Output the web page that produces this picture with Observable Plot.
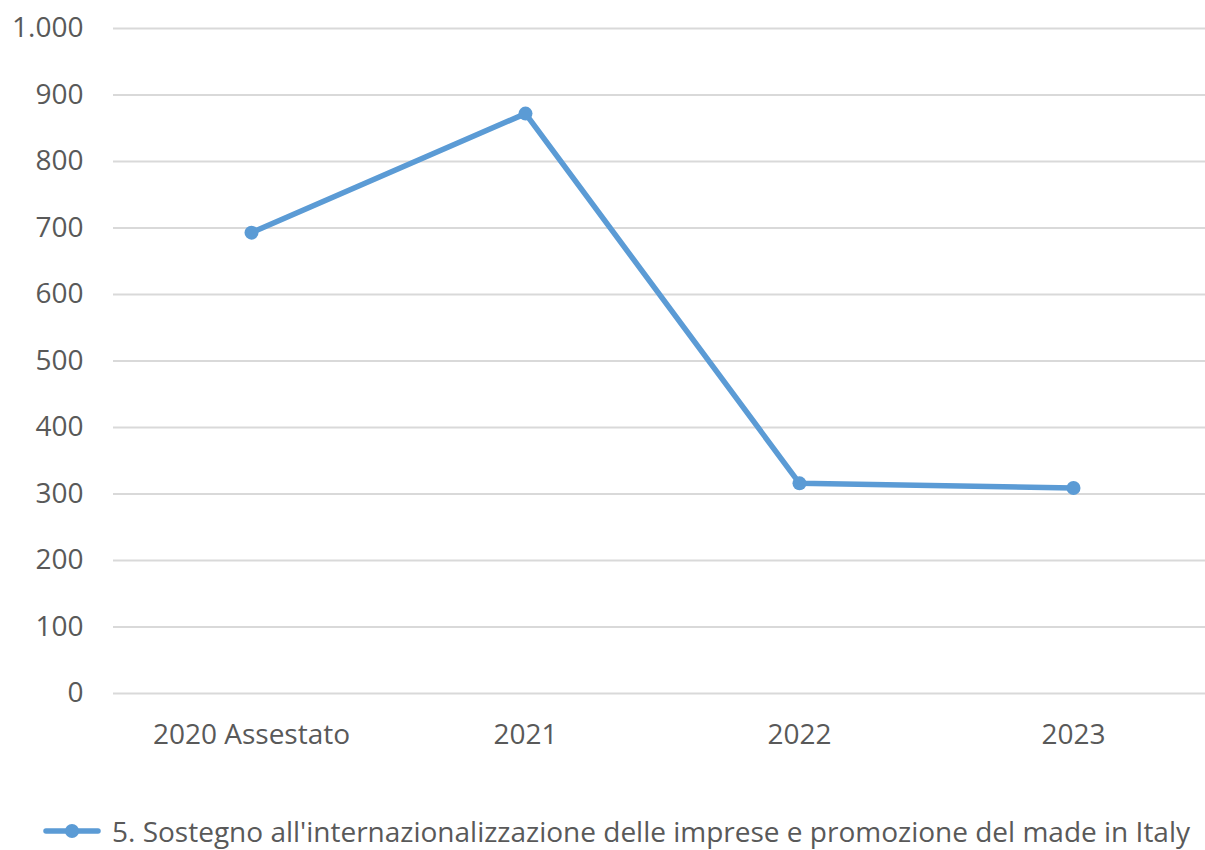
<!DOCTYPE html>
<html>
<head>
<meta charset="utf-8">
<script src="https://cdn.jsdelivr.net/npm/d3@7"></script>
<script src="https://cdn.jsdelivr.net/npm/@observablehq/plot@0.6"></script>
<style>
  html, body { margin: 0; padding: 0; background: #fff; }
  body { width: 1205px; height: 850px; overflow: hidden; font-family: "Open Sans", sans-serif; }
  #legend { position: absolute; left: 43px; top: 812px; display: flex; align-items: center; color: #595959; font-size: 28px; white-space: nowrap; }
  #legend svg { margin-right: 11px; }
</style>
</head>
<body>
<div id="chart"></div>
<div id="legend"></div>
<script>
const categories = ["2020 Assestato", "2021", "2022", "2023"];
const values = [693, 872, 316, 309];
const seriesName = "5. Sostegno all'internazionalizzazione delle imprese e promozione del made in Italy";
const yTicks = [0, 100, 200, 300, 400, 500, 600, 700, 800, 900, 1000];
const color = "#5b9bd5";

const data = categories.map((c, i) => ({category: c, value: values[i]}));
const it = d3.formatLocale({decimal: ",", thousands: ".", grouping: [3], currency: ["", "€"]});
const fmt = it.format(",");

const chart = Plot.plot({
  width: 1205,
  height: 770,
  marginLeft: 113,
  marginRight: 0,
  marginTop: 28,
  marginBottom: 77,
  style: {fontFamily: "Open Sans, sans-serif", fontSize: "28px", color: "#595959", background: "#fff"},
  x: {type: "point", domain: categories, padding: 0.5, range: [113, 1210], label: null},
  y: {domain: [0, 1000], label: null},
  marks: [
    Plot.ruleY(yTicks, {stroke: "#d9d9d9", strokeWidth: 2}),
    Plot.axisY({ticks: yTicks, tickSize: 0, tickPadding: 30, tickFormat: fmt, fill: "#595959", label: null}),
    Plot.axisX({tickSize: 0, tickPadding: 31, fill: "#595959", label: null}),
    Plot.line(data, {x: "category", y: "value", stroke: color, strokeWidth: 5.5, strokeLinejoin: "round", strokeLinecap: "round"}),
    Plot.dot(data, {x: "category", y: "value", fill: color, r: 7, stroke: null})
  ]
});
document.getElementById("chart").appendChild(chart);

const leg = document.getElementById("legend");
const sw = d3.create("svg").attr("width", 58).attr("height", 20);
sw.append("line").attr("x1", 3).attr("x2", 55).attr("y1", 10).attr("y2", 10).attr("stroke", color).attr("stroke-width", 5.5).attr("stroke-linecap", "round");
sw.append("circle").attr("cx", 29).attr("cy", 10).attr("r", 7).attr("fill", color);
leg.appendChild(sw.node());
const span = document.createElement("span");
span.textContent = seriesName;
leg.appendChild(span);
</script>
</body>
</html>
